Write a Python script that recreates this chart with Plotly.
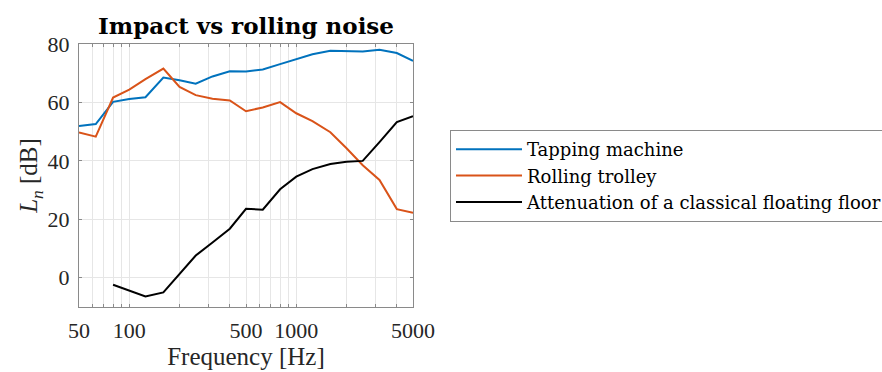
import plotly.graph_objects as go

freq = [50, 63, 80, 100, 125, 160, 200, 250, 315, 400, 500, 630, 800, 1000,
        1250, 1600, 2000, 2500, 3150, 4000, 5000]
tapping = [51.9, 52.6, 60.2, 61.2, 61.8, 68.5, 67.6, 66.4, 68.9, 70.7, 70.6,
           71.3, 73.1, 74.9, 76.5, 77.7, 77.6, 77.4, 78.0, 76.9, 74.2]
trolley = [49.7, 48.3, 61.7, 64.4, 68.0, 71.6, 65.3, 62.5, 61.3, 60.7, 57.0,
           58.3, 60.1, 56.3, 53.6, 49.8, 44.3, 38.5, 33.5, 23.5, 22.2]
freq_att = [80, 100, 125, 160, 200, 250, 315, 400, 500, 630, 800, 1000,
            1250, 1600, 2000, 2500, 3150, 4000, 5000]
attenuation = [-2.4, -4.3, -6.4, -5.0, 1.4, 7.6, 12.1, 16.8, 23.6, 23.3, 30.3,
               34.6, 37.2, 38.9, 39.7, 40.0, 46.4, 53.3, 55.3]

x_ticks = [50, 60, 70, 80, 90, 100, 200, 300, 400, 500, 600, 700, 800, 900,
           1000, 2000, 3000, 4000, 5000]
x_labels = ["50", "", "", "", "", "100", "", "", "", "500", "", "", "", "",
            "1000", "", "", "", "5000"]
y_ticks = [0, 20, 40, 60, 80]

FONT = "Liberation Serif"
WIDE = "DejaVu Serif"
TXT = "#262626"

fig = go.Figure()
fig.add_trace(go.Scatter(x=freq, y=tapping, mode="lines", name="Tapping machine",
                         line=dict(color="#0072BD", width=2)))
fig.add_trace(go.Scatter(x=freq, y=trolley, mode="lines", name="Rolling trolley",
                         line=dict(color="#D95319", width=2)))
fig.add_trace(go.Scatter(x=freq_att, y=attenuation, mode="lines",
                         name="Attenuation of a classical floating floor",
                         line=dict(color="#000000", width=2)))

fig.update_layout(
    width=882, height=372,
    margin=dict(l=79, r=469, t=44, b=65, autoexpand=False),
    paper_bgcolor="white", plot_bgcolor="white",
    font=dict(family=FONT, color=TXT, size=22),
    title=dict(text="<b>Impact vs rolling noise</b>", x=(79 + 334 / 2) / 882,
               xanchor="center", y=1 - 26 / 372, yanchor="middle",
               font=dict(family=WIDE, size=23, color="#000000")),
    showlegend=True,
    legend=dict(x=(450 - 79) / 334, xanchor="left", y=(307 - 130) / 263,
                yanchor="top", bgcolor="white", bordercolor="#8a8a8a",
                borderwidth=1, font=dict(family=WIDE, size=18, color="#000000"),
                itemwidth=66, tracegroupgap=0),
)
fig.update_xaxes(type="log", range=[1.69897, 3.69897], tickvals=x_ticks,
                 ticktext=x_labels, showgrid=True, gridcolor="#e6e6e6",
                 gridwidth=1, showline=True, linecolor="#8a8a8a", linewidth=1,
                 mirror="ticks", ticks="inside", ticklen=3, tickcolor="#8a8a8a",
                 zeroline=False, ticklabelstandoff=4,
                 title=dict(text="Frequency [Hz]", font=dict(size=25), standoff=1),
                 tickfont=dict(size=22, color=TXT))
fig.update_yaxes(range=[-10, 80], tickvals=y_ticks, showgrid=True,
                 gridcolor="#e6e6e6", gridwidth=1, showline=True,
                 linecolor="#8a8a8a", linewidth=1, mirror="ticks",
                 ticks="inside", ticklen=3, tickcolor="#8a8a8a", zeroline=False,
                 ticklabelstandoff=4,
                 title=dict(text="<i>L</i><sub><i>n</i></sub> [dB]",
                            font=dict(size=25), standoff=2),
                 tickfont=dict(size=22, color=TXT))

fig.write_html("out.html")
